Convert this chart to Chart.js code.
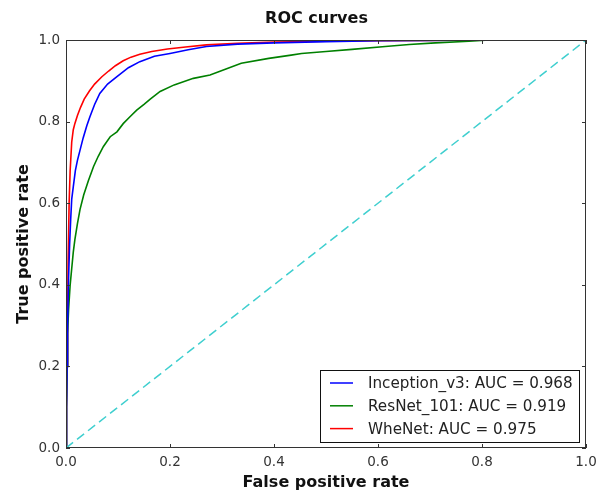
<!DOCTYPE html>
<html>
<head>
<meta charset="utf-8">
<script src="https://cdn.jsdelivr.net/npm/chart.js@4.4.1/dist/chart.umd.min.js"></script>
<style>
  html, body { margin: 0; padding: 0; background: #fff; }
  #wrap { width: 607px; height: 492px; position: relative; }
</style>
</head>
<body>
<div id="wrap"><canvas id="roc"></canvas></div>
<script>
// ROC curve points (false positive rate / true positive rate)
const inceptionFpr = [0, 0.001, 0.002, 0.003, 0.005, 0.007, 0.009, 0.011, 0.014, 0.018, 0.022, 0.027, 0.033, 0.04, 0.046, 0.055, 0.065, 0.08, 0.098, 0.12, 0.142, 0.17, 0.2, 0.235, 0.27, 0.33, 0.4, 0.5, 0.6, 0.7, 0.8, 0.9, 1];
const inceptionTpr = [0, 0.1, 0.2, 0.3, 0.42, 0.5, 0.56, 0.61, 0.64, 0.68, 0.705, 0.73, 0.76, 0.79, 0.812, 0.842, 0.869, 0.892, 0.91, 0.932, 0.947, 0.96, 0.967, 0.976, 0.984, 0.99, 0.993, 0.996, 0.998, 0.999, 1, 1, 1];

const resnetFpr = [0, 0.001, 0.002, 0.003, 0.005, 0.008, 0.011, 0.014, 0.017, 0.022, 0.027, 0.034, 0.043, 0.053, 0.062, 0.072, 0.085, 0.098, 0.11, 0.124, 0.136, 0.15, 0.162, 0.181, 0.208, 0.245, 0.277, 0.3, 0.337, 0.39, 0.433, 0.453, 0.5, 0.55, 0.614, 0.66, 0.71, 0.775, 0.814, 0.9, 1];
const resnetTpr = [0, 0.1, 0.2, 0.28, 0.34, 0.4, 0.44, 0.48, 0.51, 0.55, 0.585, 0.62, 0.655, 0.69, 0.715, 0.739, 0.763, 0.775, 0.795, 0.813, 0.828, 0.842, 0.855, 0.874, 0.89, 0.906, 0.914, 0.925, 0.943, 0.955, 0.963, 0.967, 0.972, 0.977, 0.984, 0.989, 0.993, 0.997, 1, 1, 1];

const whenetFpr = [0, 0.001, 0.002, 0.003, 0.004, 0.006, 0.008, 0.011, 0.014, 0.017, 0.022, 0.028, 0.035, 0.045, 0.055, 0.069, 0.082, 0.095, 0.11, 0.125, 0.142, 0.165, 0.195, 0.23, 0.27, 0.33, 0.4, 0.5, 0.6, 0.7, 0.8, 0.9, 1];
const whenetTpr = [0, 0.1, 0.2, 0.3, 0.45, 0.6, 0.68, 0.75, 0.78, 0.795, 0.815, 0.835, 0.855, 0.875, 0.892, 0.91, 0.924, 0.937, 0.949, 0.958, 0.965, 0.972, 0.978, 0.983, 0.988, 0.992, 0.995, 0.997, 0.998, 0.999, 1, 1, 1];

const chanceLine = [0, 1];

const seriesLabels = ['Inception_v3: AUC = 0.968', 'ResNet_101: AUC = 0.919', 'WheNet: AUC = 0.975'];
const seriesColors = ['#0000ff', '#008000', '#ff0000'];
const tickValues = [0, 0.2, 0.4, 0.6, 0.8, 1.0];

const toPoints = (xs, ys) => xs.map((x, i) => ({ x: x, y: ys[i] }));

// frame, inward ticks, title and the boxed legend (matplotlib look)
const decorPlugin = {
  id: 'decor',
  afterDraw(chart) {
    const ctx = chart.ctx;
    const a = chart.chartArea;
    const xs = chart.scales.x, ys = chart.scales.y;
    ctx.save();
    ctx.strokeStyle = '#333';
    ctx.lineWidth = 1;
    ctx.beginPath();
    tickValues.forEach(v => {
      const px = Math.round(xs.getPixelForValue(v)) + 0.5;
      ctx.moveTo(px, a.bottom); ctx.lineTo(px, a.bottom - 4);
      ctx.moveTo(px, a.top); ctx.lineTo(px, a.top + 4);
      const py = Math.round(ys.getPixelForValue(v)) + 0.5;
      ctx.moveTo(a.left, py); ctx.lineTo(a.left + 4, py);
      ctx.moveTo(a.right, py); ctx.lineTo(a.right - 4, py);
    });
    ctx.stroke();
    ctx.strokeRect(a.left + 0.5, a.top + 0.5, a.right - a.left - 1, a.bottom - a.top - 1);

    // title
    ctx.fillStyle = '#111';
    ctx.font = 'bold 16px "DejaVu Sans"';
    ctx.textAlign = 'center';
    ctx.textBaseline = 'alphabetic';
    ctx.fillText('ROC curves', 316.5, 23);

    // legend
    const w = 259, h = 72;
    const lx = a.right - 7 - w, ly = a.bottom - 6 - h;
    ctx.fillStyle = '#fff';
    ctx.fillRect(lx, ly, w, h);
    ctx.strokeStyle = '#111';
    ctx.strokeRect(Math.round(lx) + 0.5, Math.round(ly) + 0.5, w, h);
    ctx.font = '15.2px "DejaVu Sans"';
    ctx.textAlign = 'left';
    ctx.textBaseline = 'middle';
    chart.data.datasets.filter(d => !d.hideInLegend).forEach((d, i) => {
      const ry = ly + 13 + i * 22.8;
      ctx.strokeStyle = d.borderColor;
      ctx.lineWidth = 1.5;
      ctx.beginPath();
      ctx.moveTo(lx + 10, ry); ctx.lineTo(lx + 33, ry);
      ctx.stroke();
      ctx.fillStyle = '#222';
      ctx.fillText(d.label, lx + 48, ry + 1);
    });
    ctx.restore();
  }
};

const curves = [
  toPoints(inceptionFpr, inceptionTpr),
  toPoints(resnetFpr, resnetTpr),
  toPoints(whenetFpr, whenetTpr)
];

const datasets = [{
  label: 'chance',
  hideInLegend: true,
  data: toPoints(chanceLine, chanceLine),
  borderColor: '#3fcfcf',
  borderWidth: 1.5,
  borderDash: [9, 5],
  pointRadius: 0
}].concat(curves.map((pts, i) => ({
  label: seriesLabels[i],
  data: pts,
  borderColor: seriesColors[i],
  borderWidth: 1.6,
  pointRadius: 0,
  tension: 0
})));

new Chart(document.getElementById('roc'), {
  type: 'line',
  data: { datasets: datasets },
  options: {
    responsive: true,
    maintainAspectRatio: false,
    animation: false,
    layout: { padding: { left: 0, right: 21, top: 40, bottom: 0 } },
    plugins: {
      legend: { display: false },
      tooltip: { enabled: false },
      title: { display: false }
    },
    scales: {
      x: {
        type: 'linear',
        min: 0, max: 1,
        afterFit: s => { s.height = 44; },
        grid: { display: false, drawTicks: false },
        border: { display: false },
        ticks: {
          stepSize: 0.2, padding: 6, maxRotation: 0,
          color: '#333', font: { family: 'DejaVu Sans', size: 13.5 },
          callback: v => v.toFixed(1)
        },
        title: {
          display: true, text: 'False positive rate', color: '#111',
          font: { family: 'DejaVu Sans', size: 16, weight: 'bold' },
          padding: { top: 0, bottom: 0 }
        }
      },
      y: {
        type: 'linear',
        min: 0, max: 1,
        afterFit: s => { s.width = 66; },
        grid: { display: false, drawTicks: false },
        border: { display: false },
        ticks: {
          stepSize: 0.2, padding: 6,
          color: '#333', font: { family: 'DejaVu Sans', size: 13.5 },
          callback: v => v.toFixed(1)
        },
        title: {
          display: true, text: 'True positive rate', color: '#111',
          font: { family: 'DejaVu Sans', size: 16, weight: 'bold' },
          padding: { top: 14, bottom: 0 }
        }
      }
    }
  },
  plugins: [decorPlugin]
});
</script>
</body>
</html>
